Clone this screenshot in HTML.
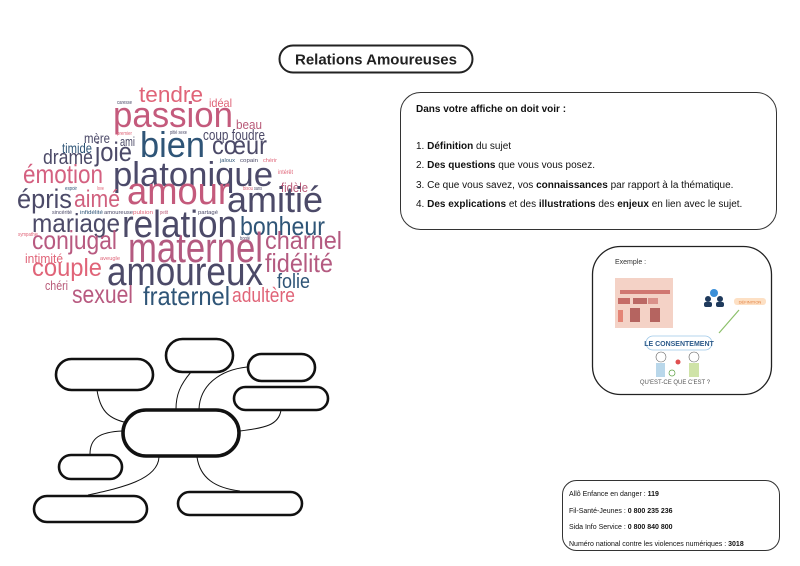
<!DOCTYPE html>
<html><head><meta charset="utf-8"><style>
html,body{margin:0;padding:0;background:#fff;}
svg{display:block;font-family:"Liberation Sans",sans-serif;}
</style></head><body>
<svg width="800" height="566" viewBox="0 0 800 566" xmlns="http://www.w3.org/2000/svg">
<rect width="800" height="566" fill="#fff"/>
<!-- title -->
<rect x="279.5" y="45.5" width="193" height="27" rx="13.5" fill="#fff" stroke="#222" stroke-width="2"/>
<text x="376" y="64.5" font-size="15" font-weight="bold" text-anchor="middle" fill="#222">Relations Amoureuses</text>

<!-- word cloud -->
<g lengthAdjust="spacingAndGlyphs">
<text x="139" y="102" font-size="22" fill="#e06478" textLength="64" lengthAdjust="spacingAndGlyphs">tendre</text>
<text x="209" y="107" font-size="12" fill="#e06478" textLength="23" lengthAdjust="spacingAndGlyphs">idéal</text>
<text x="117" y="104" font-size="5" fill="#4c4a68" textLength="15" lengthAdjust="spacingAndGlyphs">caresse</text>
<text x="113" y="127" font-size="36" fill="#c45a7c" textLength="120" lengthAdjust="spacingAndGlyphs">passion</text>
<text x="236" y="129" font-size="13" fill="#b85a78" textLength="26" lengthAdjust="spacingAndGlyphs">beau</text>
<text x="117" y="135" font-size="5" fill="#e06478" textLength="15" lengthAdjust="spacingAndGlyphs">premier</text>
<text x="170" y="134" font-size="5" fill="#4c4a68" textLength="17" lengthAdjust="spacingAndGlyphs">pitié sexe</text>
<text x="84" y="143" font-size="14" fill="#4c4a68" textLength="26" lengthAdjust="spacingAndGlyphs">mère</text>
<text x="203" y="140" font-size="15" fill="#4c4a68" textLength="62" lengthAdjust="spacingAndGlyphs">coup foudre</text>
<text x="120" y="146" font-size="13" fill="#4c4a68" textLength="15" lengthAdjust="spacingAndGlyphs">ami</text>
<text x="140" y="157" font-size="36" fill="#2f5577" textLength="65" lengthAdjust="spacingAndGlyphs">bien</text>
<text x="212" y="154" font-size="26" fill="#4c4a68" textLength="55" lengthAdjust="spacingAndGlyphs">cœur</text>
<text x="62" y="153" font-size="14" fill="#2f5577" textLength="30" lengthAdjust="spacingAndGlyphs">timide</text>
<text x="95" y="161" font-size="27" fill="#4c4a68" textLength="37" lengthAdjust="spacingAndGlyphs">joie</text>
<text x="43" y="164" font-size="20" fill="#4c4a68" textLength="50" lengthAdjust="spacingAndGlyphs">drame</text>
<text x="220" y="162" font-size="5" fill="#2f5577" textLength="15" lengthAdjust="spacingAndGlyphs">jaloux</text>
<text x="240" y="162" font-size="5" fill="#4c4a68" textLength="18" lengthAdjust="spacingAndGlyphs">copain</text>
<text x="263" y="162" font-size="5" fill="#e06478" textLength="14" lengthAdjust="spacingAndGlyphs">chérir</text>
<text x="113" y="186" font-size="34" fill="#4c4a6a" textLength="160" lengthAdjust="spacingAndGlyphs">platonique</text>
<text x="23" y="183" font-size="26" fill="#d46080" textLength="80" lengthAdjust="spacingAndGlyphs">émotion</text>
<text x="278" y="174" font-size="6" fill="#e06478" textLength="15" lengthAdjust="spacingAndGlyphs">intérêt</text>
<text x="281" y="192" font-size="13" fill="#b85a78" textLength="27" lengthAdjust="spacingAndGlyphs">fidèle</text>
<text x="65" y="190" font-size="5" fill="#2f5577" textLength="12" lengthAdjust="spacingAndGlyphs">espoir</text>
<text x="97" y="190" font-size="5" fill="#e06478" textLength="7" lengthAdjust="spacingAndGlyphs">love</text>
<text x="243" y="190" font-size="5" fill="#e06478" textLength="10" lengthAdjust="spacingAndGlyphs">bisou</text>
<text x="254" y="190" font-size="5" fill="#4c4a68" textLength="8" lengthAdjust="spacingAndGlyphs">sans</text>
<text x="127" y="204" font-size="38" fill="#c45a7c" textLength="103" lengthAdjust="spacingAndGlyphs">amour</text>
<text x="17" y="208" font-size="27" fill="#4c4a68" textLength="55" lengthAdjust="spacingAndGlyphs">épris</text>
<text x="74" y="207" font-size="24" fill="#d0607e" textLength="46" lengthAdjust="spacingAndGlyphs">aimé</text>
<text x="227" y="212" font-size="36" fill="#4c4a68" textLength="96" lengthAdjust="spacingAndGlyphs">amitié</text>
<text x="52" y="214" font-size="5" fill="#4c4a68" textLength="20" lengthAdjust="spacingAndGlyphs">sincérité</text>
<text x="80" y="214" font-size="5" fill="#2f5577" textLength="23" lengthAdjust="spacingAndGlyphs">infidélité</text>
<text x="104" y="214" font-size="5" fill="#4c4a68" textLength="29" lengthAdjust="spacingAndGlyphs">amoureuse</text>
<text x="133" y="214" font-size="5" fill="#e06478" textLength="20" lengthAdjust="spacingAndGlyphs">pulsion</text>
<text x="160" y="214" font-size="5" fill="#b85a78" textLength="8" lengthAdjust="spacingAndGlyphs">petit</text>
<text x="198" y="214" font-size="5" fill="#4c4a68" textLength="20" lengthAdjust="spacingAndGlyphs">partagé</text>
<text x="32" y="232" font-size="26" fill="#4c4a68" textLength="88" lengthAdjust="spacingAndGlyphs">mariage</text>
<text x="122" y="237" font-size="38" fill="#4c4a68" textLength="115" lengthAdjust="spacingAndGlyphs">relation</text>
<text x="240" y="235" font-size="26" fill="#2f5577" textLength="85" lengthAdjust="spacingAndGlyphs">bonheur</text>
<text x="18" y="236" font-size="5" fill="#e06478" textLength="20" lengthAdjust="spacingAndGlyphs">sympathie</text>
<text x="240" y="240" font-size="5" fill="#4c4a68" textLength="10" lengthAdjust="spacingAndGlyphs">bonté</text>
<text x="32" y="249" font-size="26" fill="#b85a80" textLength="85" lengthAdjust="spacingAndGlyphs">conjugal</text>
<text x="128" y="262" font-size="42" fill="#b45a80" textLength="135" lengthAdjust="spacingAndGlyphs">maternel</text>
<text x="265" y="249" font-size="25" fill="#b45a80" textLength="77" lengthAdjust="spacingAndGlyphs">charnel</text>
<text x="25" y="263" font-size="13" fill="#e06478" textLength="38" lengthAdjust="spacingAndGlyphs">intimité</text>
<text x="100" y="260" font-size="5" fill="#e06478" textLength="20" lengthAdjust="spacingAndGlyphs">aveugle</text>
<text x="265" y="272" font-size="26" fill="#b45a80" textLength="68" lengthAdjust="spacingAndGlyphs">fidélité</text>
<text x="32" y="276" font-size="25" fill="#e06478" textLength="70" lengthAdjust="spacingAndGlyphs">couple</text>
<text x="107" y="285" font-size="40" fill="#4c4a68" textLength="156" lengthAdjust="spacingAndGlyphs">amoureux</text>
<text x="45" y="290" font-size="13" fill="#b85a78" textLength="23" lengthAdjust="spacingAndGlyphs">chéri</text>
<text x="277" y="288" font-size="20" fill="#2f5577" textLength="33" lengthAdjust="spacingAndGlyphs">folie</text>
<text x="72" y="303" font-size="25" fill="#b85a80" textLength="61" lengthAdjust="spacingAndGlyphs">sexuel</text>
<text x="143" y="305" font-size="26" fill="#2f5577" textLength="87" lengthAdjust="spacingAndGlyphs">fraternel</text>
<text x="232" y="302" font-size="20" fill="#e06478" textLength="63" lengthAdjust="spacingAndGlyphs">adultère</text>
</g>

<!-- instructions box -->
<rect x="400.5" y="92.5" width="376" height="137" rx="20" fill="#fff" stroke="#333" stroke-width="1"/>
<g font-size="10" fill="#111">
<text x="416" y="112" font-weight="bold">Dans votre affiche on doit voir :</text>
<text x="416" y="149">1. <tspan font-weight="bold">Définition</tspan> du sujet</text>
<text x="416" y="168">2. <tspan font-weight="bold">Des questions</tspan> que vous vous posez.</text>
<text x="416" y="188">3. Ce que vous savez, vos <tspan font-weight="bold">connaissances</tspan>  par rapport à la thématique.</text>
<text x="416" y="207">4. <tspan font-weight="bold">Des explications</tspan> et des <tspan font-weight="bold">illustrations</tspan> des <tspan font-weight="bold">enjeux</tspan> en lien avec le sujet.</text>
</g>

<!-- example box -->
<rect x="592.5" y="246.5" width="179" height="148" rx="28" fill="#fff" stroke="#222" stroke-width="1.3"/>
<text x="615" y="264" font-size="7" fill="#333">Exemple :</text>
<rect x="615" y="278" width="58" height="50" fill="#f4d2c6"/>
<rect x="620" y="290" width="50" height="4" fill="#c0504d" opacity="0.7"/>
<rect x="618" y="298" width="12" height="6" fill="#b0403e" opacity="0.7"/>
<rect x="633" y="298" width="14" height="6" fill="#a23a3a" opacity="0.7"/>
<rect x="648" y="298" width="10" height="6" fill="#c0504d" opacity="0.5"/>
<rect x="630" y="308" width="10" height="14" fill="#9a3535" opacity="0.7"/>
<rect x="650" y="308" width="10" height="14" fill="#9a3535" opacity="0.7"/>
<rect x="618" y="310" width="5" height="12" fill="#e07060" opacity="0.8"/>
<circle cx="714" cy="293" r="4" fill="#3b8fd8"/>
<circle cx="708" cy="299" r="3" fill="#1f3a5c"/><rect x="704" y="302" width="8" height="5" rx="2" fill="#1f3a5c"/>
<circle cx="720" cy="299" r="3" fill="#1f3a5c"/><rect x="716" y="302" width="8" height="5" rx="2" fill="#1f3a5c"/>
<rect x="734" y="298" width="32" height="7" rx="3" fill="#fde0c4"/>
<text x="750" y="303.5" font-size="4" text-anchor="middle" fill="#e07b3a">DÉFINITION</text>
<line x1="739" y1="310" x2="719" y2="333" stroke="#8cc06a" stroke-width="1.2"/>
<rect x="646" y="336" width="66" height="14" rx="7" fill="#fff" stroke="#9fc8e8" stroke-width="0.8"/>
<text x="679" y="346" font-size="7" font-weight="bold" text-anchor="middle" fill="#2d5a8a">LE CONSENTEMENT</text>
<circle cx="661" cy="357" r="5" fill="none" stroke="#666" stroke-width="0.6"/>
<rect x="656" y="363" width="9" height="14" fill="#b9d7ea"/>
<circle cx="694" cy="357" r="5" fill="none" stroke="#666" stroke-width="0.6"/>
<rect x="689" y="363" width="10" height="14" fill="#cfe3a8"/>
<circle cx="678" cy="362" r="2.5" fill="#e05050"/>
<circle cx="672" cy="373" r="3" fill="none" stroke="#5aa040" stroke-width="0.7"/>
<text x="675" y="384" font-size="6" text-anchor="middle" fill="#555">QU'EST-CE QUE C'EST ?</text>

<!-- contact box -->
<rect x="562.5" y="480.5" width="217" height="70" rx="14" fill="#fff" stroke="#333" stroke-width="1"/>
<g font-size="7" fill="#111">
<text x="569" y="496">Allô Enfance en danger : <tspan font-weight="bold">119</tspan></text>
<text x="569" y="513">Fil-Santé-Jeunes : <tspan font-weight="bold">0 800 235 236</tspan></text>
<text x="569" y="529">Sida Info Service : <tspan font-weight="bold">0 800 840 800</tspan></text>
<text x="569" y="546">Numéro national contre les violences numériques : <tspan font-weight="bold">3018</tspan></text>
</g>

<!-- mind map connectors -->
<g fill="none" stroke="#111" stroke-width="1">
<path d="M97 390 C100 410 108 418 124 422"/>
<path d="M191 372 C180 385 176 395 176 409"/>
<path d="M247 367 C220 370 200 385 199 409"/>
<path d="M281 410 C279 425 265 428 240 431"/>
<path d="M122 431 C100 432 90 438 90 454"/>
<path d="M159 457 C158 480 120 488 88 495"/>
<path d="M197 457 C200 478 215 488 240 491"/>
</g>
<!-- mind map boxes -->
<g fill="#fff" stroke="#111" stroke-width="2.6">
<rect x="56" y="359" width="97" height="31" rx="15.5"/>
<rect x="166" y="339" width="67" height="33" rx="16.5"/>
<rect x="248" y="354" width="67" height="27" rx="13.5"/>
<rect x="234" y="387" width="94" height="23" rx="11.5"/>
<rect x="59" y="455" width="63" height="24" rx="12"/>
<rect x="34" y="496" width="113" height="26" rx="13"/>
<rect x="178" y="492" width="124" height="23" rx="11.5"/>
</g>
<rect x="123" y="410" width="116" height="46" rx="23" fill="#fff" stroke="#111" stroke-width="3.6"/>
</svg>
</body></html>
